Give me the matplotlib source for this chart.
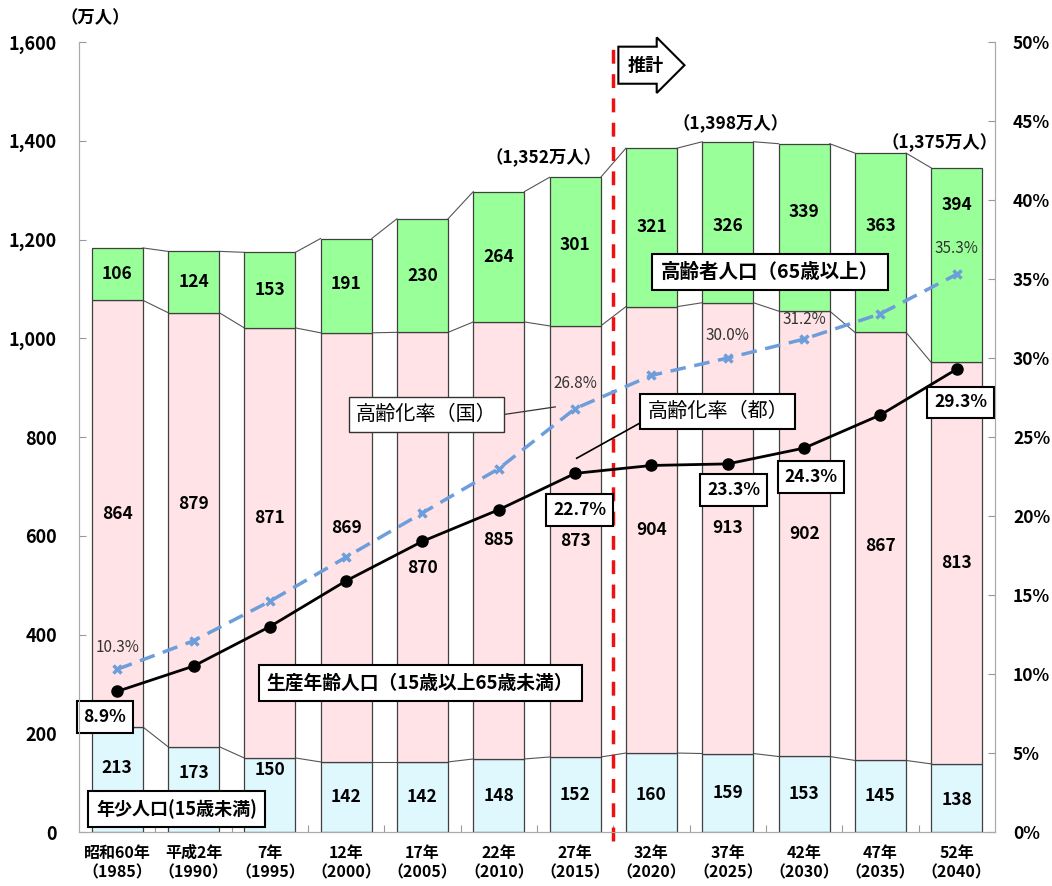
import matplotlib
matplotlib.use('Agg')
import matplotlib.pyplot as plt
from matplotlib.ticker import FuncFormatter, FixedLocator

plt.rcParams['font.family'] = ['Noto Sans CJK JP', 'DejaVu Sans']

# Data (万人, %)
years = ['昭和60年\n（1985）', '平成2年\n（1990）', '7年\n（1995）', '12年\n（2000）',
         '17年\n（2005）', '22年\n（2010）', '27年\n（2015）', '32年\n（2020）',
         '37年\n（2025）', '42年\n（2030）', '47年\n（2035）', '52年\n（2040）']
young = [213, 173, 150, 142, 142, 148, 152, 160, 159, 153, 145, 138]
working = [864, 879, 871, 869, 870, 885, 873, 904, 913, 902, 867, 813]
elderly = [106, 124, 153, 191, 230, 264, 301, 321, 326, 339, 363, 394]
rate_tokyo = [8.9, 10.5, 13.0, 15.9, 18.4, 20.4, 22.7, 23.2, 23.3, 24.3, 26.4, 29.3]
rate_japan = [10.3, 12.1, 14.6, 17.4, 20.2, 23.0, 26.8, 28.9, 30.0, 31.2, 32.8, 35.3]
total_labels = ['（1,352万人）', '（1,398万人）', '（1,375万人）']

# layout for labels (data units)
total_pos = [(5.58, 1365), (8.04, 1434), (10.78, 1395)]
young_off = [24, 33, 50, 0, 0, 0, 0, -5, 0, 0, 0, -5]
working_off = [0, 52, 50, 40, -42, 0, 0, 0, 0, 0, 0, 0]
elderly_off = [0, 0, 0, 4, 0, 0, 14, 0, -8, 31, 34, 122]
tokyo_lab_idx = [0, 6, 8, 9, 11]
tokyo_lab_pos = [(-0.16, 233), (6.06, 652), (8.08, 692), (9.09, 719), (11.05, 870)]
japan_lab_idx = [0, 6, 8, 9, 11]
japan_lab_y = [373, 909, 1005, 1037, 1181]

c_young = '#DFF8FE'
c_work = '#FFE3E7'
c_old = '#99FF99'
edge = '#404040'

fig = plt.figure(figsize=(10.52, 8.86), dpi=100)
ax = fig.add_axes([0.0751, 0.0609, 0.8707, 0.8917])
ax2 = ax.twinx()

x = list(range(len(years)))
w = 0.67
bottom2 = [a + b for a, b in zip(young, working)]
ax.bar(x, young, w, color=c_young, edgecolor=edge, linewidth=0.9, zorder=2)
ax.bar(x, working, w, bottom=young, color=c_work, edgecolor=edge, linewidth=0.9, zorder=2)
ax.bar(x, elderly, w, bottom=bottom2, color=c_old, edgecolor=edge, linewidth=0.9, zorder=2)

# connector lines between bars
tops = [young, bottom2, [a + b for a, b in zip(bottom2, elderly)]]
for lvl in tops:
    for i in range(len(x) - 1):
        ax.plot([i + w / 2, i + 1 - w / 2], [lvl[i], lvl[i + 1]], color='#555555',
                lw=0.8, zorder=1)

# value labels
bold = dict(fontsize=12.5, fontweight='bold', ha='center', va='center', zorder=5)
for i in x:
    ax.text(i, young[i] / 2 + young_off[i], str(young[i]), **bold)
    ax.text(i, young[i] + working[i] / 2 + working_off[i], str(working[i]), **bold)
    ax.text(i, bottom2[i] + elderly[i] / 2 + elderly_off[i], str(elderly[i]), **bold)

for (xx, yy), t in zip(total_pos, total_labels):
    ax.text(xx, yy, t, **bold)

ax.text(-0.29, 1649, '（万人）', fontsize=12.5, fontweight='bold', ha='center',
        va='center', clip_on=False)

# axes
ax.set_xlim(-0.5, len(years) - 0.5)
ax.set_ylim(0, 1600)
ax.set_yticks(range(0, 1601, 200))
ax.yaxis.set_major_formatter(FuncFormatter(lambda v, p: f'{int(v):,}'))
ax.xaxis.set_major_locator(FixedLocator([i + 0.5 for i in x[:-1]]))
ax.xaxis.set_minor_locator(FixedLocator(x))
ax.set_xticklabels([], minor=False)
ax.set_xticklabels(years, minor=True, fontsize=11.5, fontweight='bold', linespacing=1.3)
ax.tick_params(axis='x', which='major', direction='in', length=5, color='#999999')
ax.tick_params(axis='x', which='minor', length=0, pad=9)
ax.tick_params(axis='y', direction='in', length=5, color='#999999', labelsize=13, pad=16)
for lab in ax.get_yticklabels():
    lab.set_fontweight('bold')
ax.spines['top'].set_visible(False)
ax2.spines['top'].set_visible(False)
for s in ['left', 'bottom', 'right']:
    ax.spines[s].set_color('#aaaaaa')
    ax2.spines[s].set_color('#aaaaaa')

ax2.set_ylim(0, 50)
ax2.set_yticks(range(0, 51, 5))
ax2.yaxis.set_major_formatter(FuncFormatter(lambda v, p: f'{int(v)}%'))
ax2.tick_params(axis='y', direction='in', length=5, color='#999999', labelsize=12.5, pad=13)
for lab in ax2.get_yticklabels():
    lab.set_fontweight('bold')

# rate lines
ax2.plot(x, rate_japan, color='#6D9EDB', lw=2.5, dashes=(4.5, 2.5), marker='x',
         ms=6, mew=2.5, zorder=6)
ax2.plot(x, rate_tokyo, color='black', lw=2, marker='o', ms=8, zorder=7)

for i, yy in zip(japan_lab_idx, japan_lab_y):
    ax.text(i, yy, f'{rate_japan[i]:.1f}%', fontsize=11, color='#333333',
            ha='center', va='center', zorder=8)
for i, (xx, yy) in zip(tokyo_lab_idx, tokyo_lab_pos):
    ax.text(xx, yy, f'{rate_tokyo[i]:.1f}%', fontsize=12.5, fontweight='bold',
            ha='center', va='center', zorder=9,
            bbox=dict(boxstyle='square,pad=0.4', fc='white', ec='black', lw=1.5))

# series name boxes
box = dict(boxstyle='square,pad=0.45', fc='white', ec='black', lw=1.5)
ax.text(8.55, 1134, '高齢者人口（65歳以上）', fontsize=14, fontweight='bold',
        ha='center', va='center', bbox=box, zorder=9)
ax.text(3.97, 302, '生産年齢人口（15歳以上65歳未満）', fontsize=13.5, fontweight='bold',
        ha='center', va='center', bbox=box, zorder=9)
ax.text(0.78, 47, '年少人口(15歳未満)', fontsize=13, fontweight='bold',
        ha='center', va='center', bbox=box, zorder=9)
ax.text(4.05, 845, '高齢化率（国）', fontsize=14.5, ha='center', va='center',
        bbox=dict(boxstyle='square,pad=0.35', fc='white', ec='#333333', lw=1), zorder=9)
ax.text(7.87, 851, '高齢化率（都）', fontsize=14.5, ha='center', va='center',
        bbox=dict(boxstyle='square,pad=0.35', fc='white', ec='black', lw=1.5), zorder=9)
ax.plot([5.04, 5.74], [845, 861], color='#333333', lw=0.9, zorder=8)
ax.plot([6.915, 6.02], [834, 757], color='black', lw=1.2, zorder=8)

# projection divider
ax.plot([6.5, 6.5], [-18, 1600], color='#EE1111', lw=2.5, dashes=(4, 3),
        clip_on=False, zorder=4)
ax.text(6.92, 1553, '推計', fontsize=13, fontweight='bold', ha='center', va='center',
        bbox=dict(boxstyle='rarrow,pad=0.5', fc='white', ec='black', lw=1.5), zorder=9)

ax.set_zorder(ax2.get_zorder() - 1)
ax.patch.set_visible(False)
ax2.patch.set_visible(False)

fig.savefig('out.png', dpi=100)
